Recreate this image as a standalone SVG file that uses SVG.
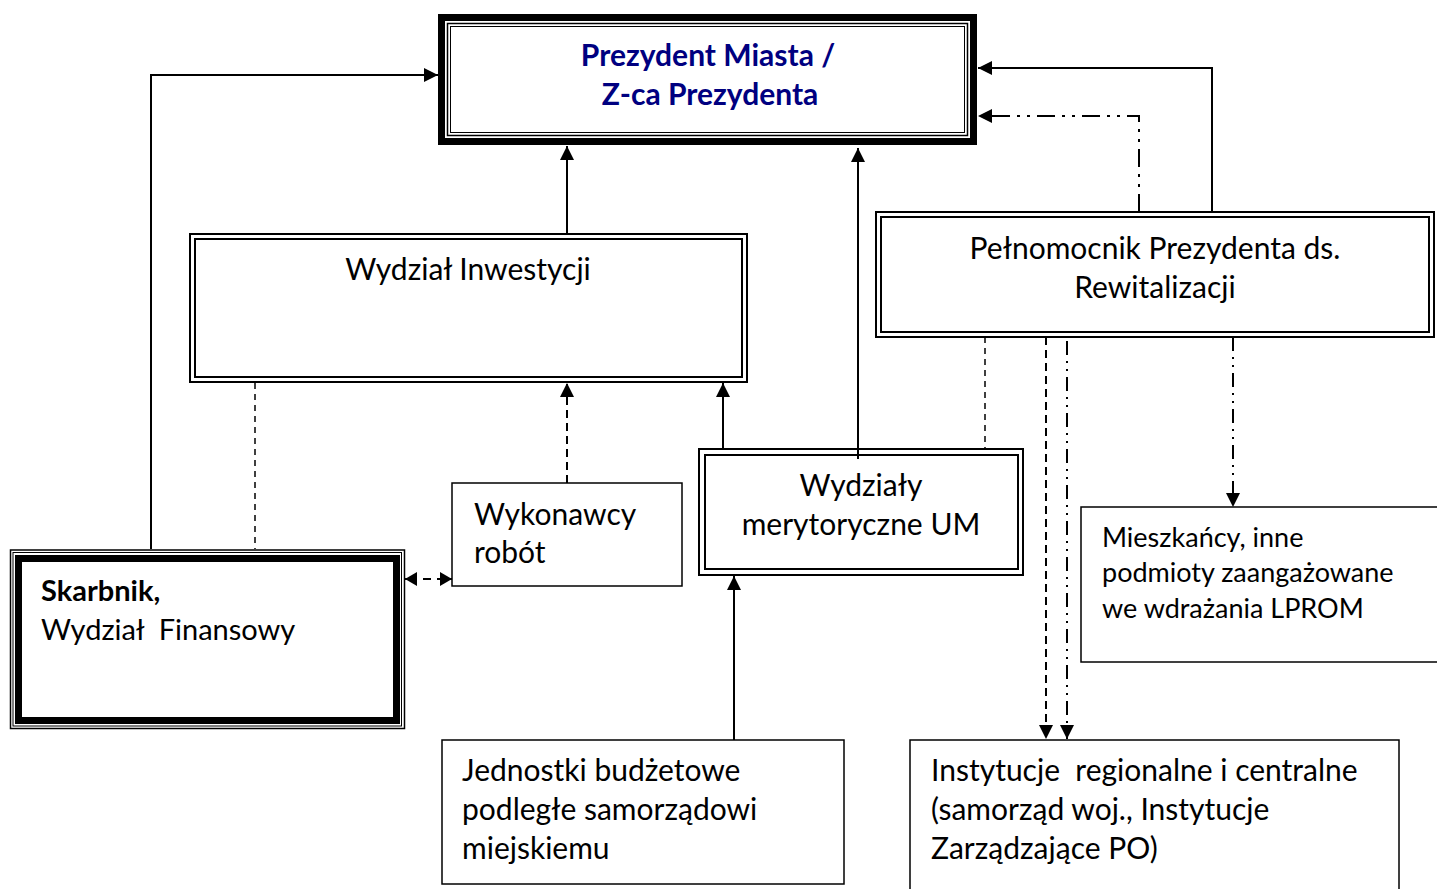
<svg xmlns="http://www.w3.org/2000/svg" width="1437" height="889" viewBox="0 0 1437 889">
<style>
text{font-family:Lato,"Liberation Sans",sans-serif;font-size:30px;fill:#000;white-space:pre}
.b{font-weight:bold}
.navy{fill:#000080}
.sm{font-size:27px}
.sk{font-size:29px}
.box{fill:#fff;stroke:#000;stroke-width:2}
.thin{fill:none;stroke:#000;stroke-width:1.5}
.thick{fill:none;stroke:#000;stroke-width:7}
.c{fill:none;stroke:#000;stroke-width:2}
.d1{stroke-dasharray:8 5}
.d2{stroke-dasharray:6 5}
.ddd{stroke-dasharray:18 7 3 7 3 7}
.ddd2{stroke-dasharray:14 6 2 6 2 6}
</style>
<defs>
<marker id="ah" markerUnits="userSpaceOnUse" markerWidth="15" markerHeight="15" refX="14" refY="7" orient="auto-start-reverse" viewBox="0 0 15 15">
<path d="M0,0 L14,7 L0,14 z" fill="#000"/>
</marker>
<marker id="as" markerUnits="userSpaceOnUse" markerWidth="13" markerHeight="14" refX="12" refY="7" orient="auto-start-reverse" viewBox="0 0 13 14">
<path d="M0,0 L12,7 L0,14 z" fill="#000"/>
</marker>
</defs>

<g id="prezydent">
<rect x="441.5" y="17.5" width="532" height="124" fill="#fff" class="thick"/>
<rect x="447.5" y="23.5" width="520" height="112" class="thin"/>
<rect x="450.5" y="26.5" width="514" height="106" class="thin" style="stroke-width:1"/>
<text x="708" y="66" text-anchor="middle" class="b navy">Prezydent Miasta /</text>
<text x="710" y="105" text-anchor="middle" class="b navy">Z-ca Prezydenta</text>
</g>

<g id="inwestycje">
<rect x="190" y="234" width="557" height="148" class="box"/>
<rect x="195" y="239" width="547" height="138" class="box"/>
<text x="468" y="280" text-anchor="middle">Wydział Inwestycji</text>
</g>

<g id="pelnomocnik">
<rect x="876" y="212" width="558" height="125" class="box"/>
<rect x="881" y="217" width="548" height="115" class="box"/>
<text x="1155" y="259" text-anchor="middle">Pełnomocnik Prezydenta ds.</text>
<text x="1155" y="298" text-anchor="middle">Rewitalizacji</text>
</g>

<g id="wydzialy">
<rect x="699" y="449" width="324" height="126" class="box"/>
<rect x="705" y="455" width="313" height="114" class="box"/>
<text x="861" y="496" text-anchor="middle">Wydziały</text>
<text x="861" y="535" text-anchor="middle">merytoryczne UM</text>
</g>

<g id="wykonawcy">
<rect x="452" y="483" width="230" height="103" class="box" style="stroke-width:1.5"/>
<text x="474" y="525">Wykonawcy</text>
<text x="474" y="563">robót</text>
</g>

<g id="skarbnik">
<rect x="10.5" y="550" width="394" height="178.5" fill="#fff" class="thin"/>
<rect x="13" y="552.5" width="388.5" height="173.5" class="thin" style="stroke-width:1"/>
<rect x="18.5" y="558.5" width="378" height="162" class="thick"/>
<text x="41" y="601" class="b sk">Skarbnik,</text>
<text x="41" y="640" class="sk">Wydział  Finansowy</text>
</g>

<g id="mieszkancy">
<rect x="1081" y="507" width="370" height="155" class="box" style="stroke-width:1.5"/>
<text x="1102" y="547" class="sm">Mieszkańcy, inne</text>
<text x="1102" y="582" class="sm">podmioty zaangażowane</text>
<text x="1102" y="618" class="sm">we wdrażania LPROM</text>
</g>

<g id="jednostki">
<rect x="442" y="740" width="402" height="144" class="box" style="stroke-width:1.5"/>
<text x="462" y="781">Jednostki budżetowe</text>
<text x="462" y="820">podległe samorządowi</text>
<text x="462" y="859">miejskiemu</text>
</g>

<g id="instytucje">
<rect x="910" y="740" width="489" height="170" class="box" style="stroke-width:1.5"/>
<text x="931" y="781">Instytucje  regionalne i centralne</text>
<text x="931" y="820">(samorząd woj., Instytucje</text>
<text x="931" y="859">Zarządzające PO)</text>
</g>

<g id="connectors">
<path class="c" d="M151,549 V75 H438" marker-end="url(#ah)"/>
<path class="c" d="M567,234 V146" marker-end="url(#ah)"/>
<path class="c" d="M858,459 V148" marker-end="url(#ah)"/>
<path class="c" d="M1212,212 V68 H978" marker-end="url(#ah)"/>
<path class="c ddd" d="M1139,212 V116 H978" marker-end="url(#ah)"/>
<path class="c d1" d="M567,483 V383" marker-end="url(#ah)"/>
<path class="c" d="M723,449 V383" marker-end="url(#ah)"/>
<path class="c d2" d="M255,383 V549" style="stroke-width:1.5"/>
<path class="c" d="M405,579 H452" style="stroke-dasharray:12 6 8 6 16" marker-start="url(#as)" marker-end="url(#as)"/>
<path class="c" d="M734,740 V576" marker-end="url(#ah)"/>
<path class="c d2" d="M985,337 V449" style="stroke-width:1.5"/>
<path class="c d1" d="M1046,337 V739" marker-end="url(#ah)"/>
<path class="c ddd2" d="M1067,341 V739" marker-end="url(#ah)"/>
<path class="c ddd2" d="M1233,337 V507" marker-end="url(#ah)"/>
</g>
</svg>
